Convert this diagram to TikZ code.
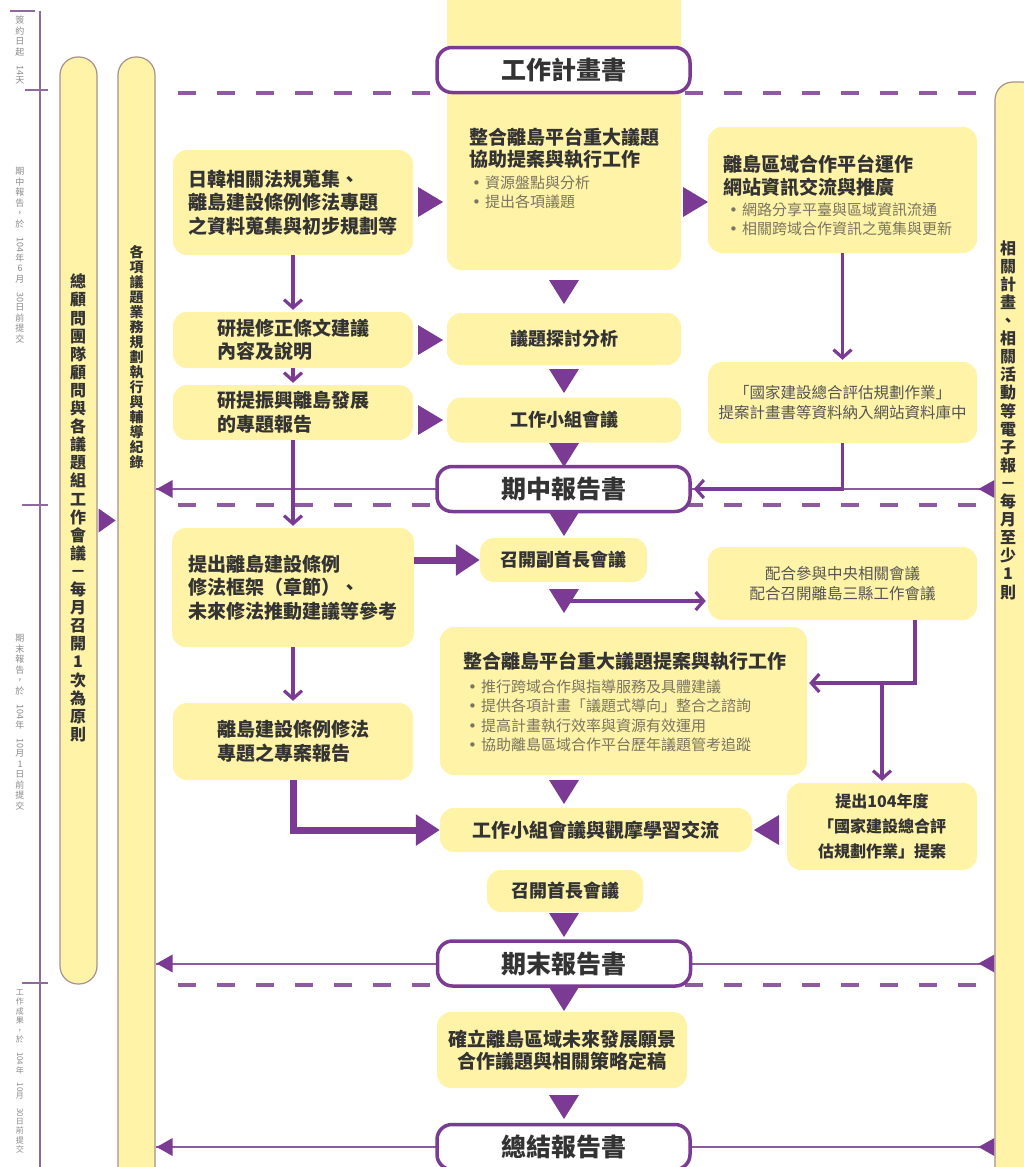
\documentclass[tikz,border=0pt]{standalone}
\usepackage{fontspec}
\usepackage{graphicx}
\setmainfont{Noto Sans CJK TC}
\newfontfamily\dotfont{DejaVu Sans}
\usetikzlibrary{arrows.meta,positioning,calc}
\pgfdeclarelayer{background}
\pgfsetlayers{background,main}

\definecolor{boxyellow}{HTML}{FFF3A8}
\definecolor{purp}{HTML}{7B3A93}
\definecolor{dashpurp}{HTML}{8E5AA0}
\definecolor{linepurp}{HTML}{8C5A9E}
\definecolor{tlpurp}{HTML}{8E6A9E}
\definecolor{pillline}{HTML}{A8908C}
\definecolor{ink}{HTML}{333333}
\definecolor{bulink}{HTML}{7A7560}
\definecolor{softink}{HTML}{555555}
\definecolor{stampgray}{HTML}{8A8A8A}

\newcommand{\hdfont}{\fontsize{19}{23.5}\selectfont\bfseries}
\newcommand{\bulfont}{\fontsize{15}{19.5}\selectfont}
\newcommand{\ttlfont}{\fontsize{25}{30}\selectfont\bfseries}
\newcommand{\midfont}{\fontsize{18}{22}\selectfont\bfseries}
\newcommand{\smfont}{\fontsize{15.5}{19.5}\selectfont}
\newcommand{\propfont}{\fontsize{16}{25}\selectfont\bfseries}
\newcommand{\pillfont}{\fontsize{16}{18.1}\selectfont\bfseries}
\newcommand{\stampfont}{\fontsize{9}{10.5}\selectfont}
\newcommand{\bu}{{\dotfont •}\hspace{4pt}}

% one character per line, for the upright columns
\makeatletter
\newcommand\vstk[1]{\vstk@a#1\@nil}
\def\vstk@a#1#2\@nil{#1\ifx\relax#2\relax\else\\\vstk@a#2\@nil\fi}
\makeatother

\tikzstyle{box}=[rectangle, rounded corners=14pt, fill=boxyellow, inner sep=0pt, text=ink]
\tikzstyle{report}=[rectangle, rounded corners=15pt, draw=purp, line width=3.5pt, fill=white, minimum width=253pt, minimum height=45pt, inner sep=0pt, font=\ttlfont, text=ink]
\tikzstyle{pill}=[rectangle, rounded corners=18pt, draw=pillline, line width=1.2pt, fill=boxyellow, inner sep=0pt]
\tikzstyle{pilltext}=[align=center, inner sep=0pt, text=ink, font=\pillfont]
\tikzstyle{stamp}=[align=center, inner sep=0pt, text=stampgray, font=\stampfont]
\tikzstyle{headtext}=[align=left, inner sep=0pt, text=ink, font=\hdfont]
\tikzstyle{bullets}=[align=left, inner sep=0pt, text=bulink, font=\bulfont]
\tikzstyle{barb}=[draw=purp, line width=3.2pt, -{Straight Barb[length=8pt,width=18pt]}, shorten >=2pt]
\tikzstyle{fat}=[draw=purp, line width=7pt, -{Triangle[length=24pt,width=30pt]}]
\tikzstyle{tline}=[draw=tlpurp, line width=2.6pt]
\tikzstyle{secline}=[draw=dashpurp, line width=4pt, dash pattern=on 18pt off 21pt]
\tikzstyle{rline}=[draw=linepurp, line width=2pt]

\newcommand{\tridown}[1]{\fill[purp,shift={#1}] (-15,-12) -- (15,-12) -- (0,12) -- cycle;}
\newcommand{\triright}[1]{\fill[purp,shift={#1}] (-12,-15) -- (-12,15) -- (13,0) -- cycle;}
\newcommand{\trileft}[1]{\fill[purp,shift={#1}] (12,-15) -- (12,15) -- (-13,0) -- cycle;}

\begin{document}
\begin{tikzpicture}[x=1pt,y=-1pt]
    \useasboundingbox (0,0) rectangle (1023,1167);

    % side columns
    \node[pill, minimum width=37pt, minimum height=927pt] (pillA) at (78.5,520.5) {};
    \node[pill, minimum width=37pt, minimum height=1133pt] (pillB) at (136.5,623.5) {};
    \node[pill, minimum width=45pt, minimum height=1108pt] (pillC) at (1017.5,636) {};
    \node[pilltext] at (78,508) {\vstk{總顧問團隊顧問與各議題組工作會議－每月召開1次為原則}};
    \node[pilltext, font=\fontsize{14}{15}\selectfont\bfseries] at (136.5,357) {\vstk{各項議題業務規劃執行與輔導紀錄}};
    \node[pilltext] at (1008,420) {\vstk{相關計畫、相關活動等電子報－每月至少1則}};
    \fill[purp] ($(pillA.east)+(1,-12)$) -- ++(0,24) -- ++(17,-12) -- cycle;

    % time line
    \node[stamp] at (20,50) {\vstk{簽約日起{\rotatebox{-90}{14}}天}};
    \node[stamp] at (20,255) {\vstk{期中報告，於{\rotatebox{-90}{104}}年6月{\rotatebox{-90}{30}}日前提交}};
    \node[stamp] at (20,722) {\vstk{期末報告，於{\rotatebox{-90}{104}}年{\rotatebox{-90}{10}}月1日前提交}};
    \node[stamp, anchor=north, font=\fontsize{8}{9.5}\selectfont] at (20,989) {\vstk{工作成果，於{\rotatebox{-90}{104}}年{\rotatebox{-90}{10}}月{\rotatebox{-90}{30}}日前提交}};

    % first stage
    \node[box, minimum width=234pt, minimum height=290pt] (topic) at (564,125) {};
    \node[headtext, anchor=north west, font=\fontsize{19}{22}\selectfont\bfseries] (topichd) at (469,128) {整合離島平台重大議題\\協助提案與執行工作};
    \node[bullets, below=6pt of topichd.south west, anchor=north west, xshift=3pt] {\bu 資源盤點與分析\\\bu 提出各項議題};
    \node[report] (plan) at (563.5,70) {工作計畫書};

    \node[box, minimum width=240pt, minimum height=105pt, font=\hdfont, align=left] (collect) at (293,202.5) {日韓相關法規蒐集、\\離島建設條例修法專題\\之資料蒐集與初步規劃等};
    \node[box, minimum width=240pt, minimum height=56pt, font=\hdfont, align=left] (amend) at (293,340) {研提修正條文建議\\內容及說明};
    \node[box, minimum width=240pt, minimum height=55pt, font=\hdfont, align=left] (revive) at (293,412.5) {研提振興離島發展\\的專題報告};

    \node[box, minimum width=269pt, minimum height=126pt] (web) at (842.5,190) {};
    \node[headtext, anchor=north west, font=\fontsize{19}{23}\selectfont\bfseries] (webhd) at (723,155) {離島區域合作平台運作\\網站資訊交流與推廣};
    \node[bullets, below=5pt of webhd.south west, anchor=north west, xshift=6pt] {\bu 網路分享平臺與區域資訊流通\\\bu 相關跨域合作資訊之蒐集與更新};
    \node[box, minimum width=269pt, minimum height=81pt, font=\smfont, text=softink, align=center] (webdb) at (842.5,402.5) {「國家建設總合評估規劃作業」\\提案計畫書等資料納入網站資料庫中};

    \node[box, minimum width=234pt, minimum height=52pt, font=\midfont] (discuss) at (564,339) {議題探討分析};
    \node[box, minimum width=234pt, minimum height=45pt, font=\midfont] (group) at (564,420) {工作小組會議};
    \node[report] (mid) at (563.5,489) {期中報告書};

    % second stage
    \node[box, minimum width=242pt, minimum height=119pt, font=\hdfont, align=left] (frame) at (293,587.5) {提出離島建設條例\\修法框架（章節）、\\未來修法推動建議等參考};
    \node[box, minimum width=240pt, minimum height=77pt, font=\hdfont, align=left] (special) at (293,741.5) {離島建設條例修法\\專題之專案報告};
    \node[box, minimum width=167pt, minimum height=44pt, font=\midfont] (vice) at (563.5,560) {召開副首長會議};
    \node[box, minimum width=269pt, minimum height=73pt, font=\smfont, text=softink, align=center] (assist) at (842.5,583.5) {配合參與中央相關會議\\配合召開離島三縣工作會議};
    \node[box, minimum width=367pt, minimum height=148pt] (integ) at (623.5,701) {};
    \node[headtext, anchor=north west] (integhd) at (463,652) {整合離島平台重大議題提案與執行工作};
    \node[bullets, below=8pt of integhd.south west, anchor=north west, xshift=5pt] {\bu 推行跨域合作與指導服務及具體建議\\\bu 提供各項計畫「議題式導向」整合之諮詢\\\bu 提高計畫執行效率與資源有效運用\\\bu 協助離島區域合作平台歷年議題管考追蹤};
    \node[box, minimum width=190pt, minimum height=87pt, font=\propfont, align=center] (propose) at (882,826.5) {提出104年度\\「國家建設總合評\\估規劃作業」提案};
    \node[box, minimum width=312pt, minimum height=44pt, font=\hdfont] (study) at (596,830) {工作小組會議與觀摩學習交流};
    \node[box, minimum width=156pt, minimum height=42pt, font=\midfont] (chief) at (565,891) {召開首長會議};
    \node[report] (final) at (564,963.5) {期末報告書};

    % last stage
    \node[box, minimum width=250pt, minimum height=76pt, font=\fontsize{19}{21.5}\selectfont\bfseries, align=center] (vision) at (562,1050) {確立離島區域未來發展願景\\合作議題與相關策略定稿};
    \node[report] (summary) at (563.5,1147) {總結報告書};

    % flow marks between the boxes
    \foreach \x/\y in {430/202, 695/202, 430/340, 430/420}
        \triright{(\x,\y)};
    \foreach \y in {292, 381, 455, 524, 792, 925, 999, 1107}
        \tridown{(564,\y)};
    \coordinate (vt) at (564,601);
    \tridown{(vt)};
    \trileft{(767,830)};

    % connectors
    \draw[barb] (collect) -- (amend);
    \draw[barb] (amend) -- (revive);
    \draw[barb] (revive) -- (frame);
    \draw[barb] (frame) -- (special);
    \draw[barb] (web) -- (webdb);
    \draw[barb] (webdb.south) |- (mid.east);
    \draw[barb] (vt) -- (vt -| assist.west);
    \coordinate (split) at (915,683);
    \draw[barb] (assist.south -| split) -- (split) -- (integ.east |- split);
    \draw[barb] (propose.north |- split) -- (propose.north);
    \draw[fat] (frame.east |- vice.west) -- (vice.west);
    \draw[fat] (special.south) |- (study.west);

    \begin{pgfonlayer}{background}
        % time line and stage marks
        \draw[tline] (40,11) -- (40,1180);
        \foreach \y/\a/\b in {11/10/35, 90/25/48, 505/22/48, 983/22/48}
            \draw[tline] (\a,\y) -- (\b,\y);
        \foreach \y in {93, 505, 985}
            \draw[secline] (178,\y) -- (985,\y);
        % reports to both side columns
        \foreach \r in {mid, final, summary} {
            \draw[rline] (pillB.east |- \r) -- (pillC.west |- \r);
            \fill[purp] ($(pillB.east |- \r)+(1,0)$) -- ++(16,-9) -- ++(0,18) -- cycle;
            \fill[purp] ($(pillC.west |- \r)+(-16,0)$) -- ++(16,-9) -- ++(0,18) -- cycle;
        }
    \end{pgfonlayer}
\end{tikzpicture}
\end{document}
